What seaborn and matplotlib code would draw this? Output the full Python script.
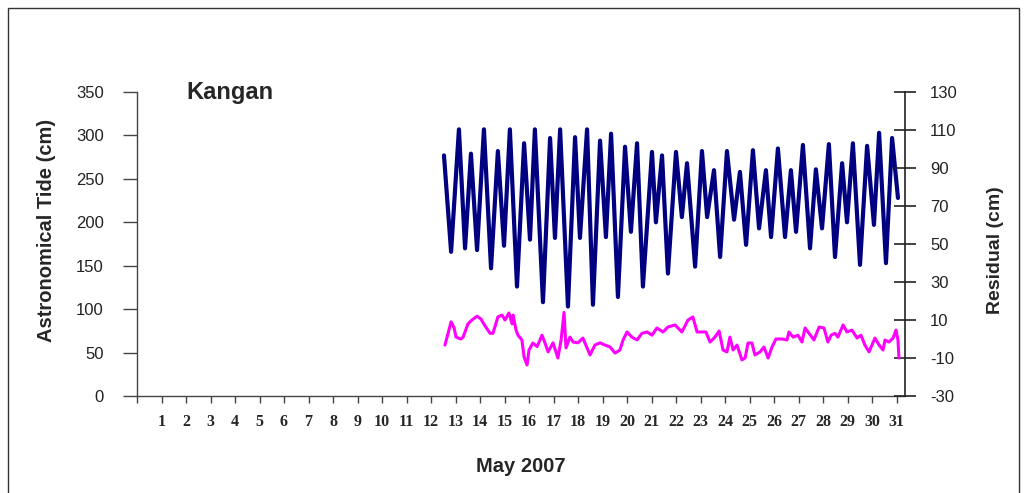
import matplotlib
matplotlib.use("Agg")
import matplotlib.pyplot as plt
import seaborn as sns
import pandas as pd
from matplotlib.patches import Rectangle

# ---- data (days of May 2007) ----
tide_day = [12.53, 12.82, 13.14, 13.39, 13.63, 13.88, 14.16, 14.45, 14.73, 14.98,
            15.22, 15.51, 15.80, 16.04, 16.24, 16.57, 16.86, 17.06, 17.27, 17.59,
            17.88, 18.08, 18.37, 18.61, 18.90, 19.14, 19.35, 19.63, 19.92, 20.16,
            20.41, 20.65, 21.02, 21.18, 21.43, 21.67, 22.00, 22.24, 22.45, 22.78,
            23.06, 23.27, 23.55, 23.80, 24.08, 24.37, 24.61, 24.86, 25.14, 25.39,
            25.67, 25.88, 26.16, 26.45, 26.69, 26.90, 27.18, 27.47, 27.71, 27.96,
            28.24, 28.49, 28.78, 28.98, 29.22, 29.51, 29.80, 30.08, 30.29, 30.57,
            30.82, 31.06]
tide_cm = [277, 166, 307, 170, 279, 168, 307, 147, 282, 173,
           307, 126, 291, 180, 307, 108, 297, 182, 307, 103,
           298, 182, 307, 105, 294, 183, 302, 114, 287, 189,
           291, 126, 281, 200, 277, 141, 281, 206, 268, 149,
           282, 206, 260, 160, 282, 203, 258, 174, 283, 193,
           260, 183, 285, 183, 260, 189, 289, 170, 261, 193,
           290, 160, 268, 200, 291, 151, 288, 197, 303, 153,
           297, 228]

resid_day = [12.57, 12.82, 12.94, 13.02, 13.22, 13.31, 13.51, 13.67, 13.88, 14.04,
             14.20, 14.41, 14.53, 14.73, 14.90, 15.02, 15.18, 15.31, 15.35, 15.47,
             15.55, 15.71, 15.80, 15.92, 16.00, 16.16, 16.33, 16.53, 16.65, 16.78,
             16.98, 17.18, 17.31, 17.43, 17.51, 17.67, 17.80, 18.00, 18.20, 18.37,
             18.49, 18.69, 18.90, 19.10, 19.31, 19.51, 19.71, 19.84, 20.00, 20.20,
             20.41, 20.61, 20.82, 21.02, 21.22, 21.47, 21.67, 21.96, 22.24, 22.49,
             22.69, 22.86, 23.06, 23.22, 23.39, 23.59, 23.76, 23.92, 24.08, 24.20,
             24.33, 24.49, 24.69, 24.82, 24.94, 25.10, 25.22, 25.43, 25.59, 25.76,
             25.92, 26.08, 26.33, 26.53, 26.61, 26.78, 26.98, 27.14, 27.27, 27.43,
             27.63, 27.84, 28.04, 28.20, 28.33, 28.49, 28.61, 28.82, 28.98, 29.18,
             29.39, 29.55, 29.71, 29.88, 30.12, 30.29, 30.45, 30.53, 30.69, 30.86,
             30.98, 31.06, 31.10]
resid_cm = [-3.2, 9.0, 6.0, 1.0, 0.0, 1.0, 8.0, 10.0, 12.0, 10.5,
            7.0, 3.0, 3.0, 11.6, 12.6, 10.0, 13.7, 8.0, 12.6, 4.7,
            2.0, -0.5, -9.5, -13.7, -5.8, -2.1, -4.0, 2.0, -2.0, -6.8,
            -2.0, -10.0, -0.5, 14.0, -4.7, 1.0, -1.6, -2.0, 0.5, -4.7,
            -8.4, -3.2, -2.0, -3.2, -4.2, -7.4, -5.8, -0.5, 3.7, 1.0,
            -0.5, 3.0, 3.7, 2.0, 5.8, 3.7, 6.3, 7.4, 3.7, 10.0,
            11.6, 3.7, 3.7, 3.7, -1.6, 1.0, 4.2, -5.8, -6.8, 1.0,
            -5.8, -3.2, -11.0, -10.0, -2.1, -2.1, -8.4, -6.8, -4.2, -10.0,
            -4.2, 0.0, 0.0, -0.5, 3.7, 1.0, 2.0, -1.6, 5.8, 3.0,
            -0.5, 6.3, 5.8, -1.6, 2.0, 3.0, 1.0, 7.4, 3.7, 4.7,
            0.5, 2.0, -3.2, -6.8, 0.5, -3.2, -5.8, -0.5, -1.6, 0.5,
            4.7, -0.5, -10.0]

day_ticks = list(range(1, 32))
left_ticks = [0, 50, 100, 150, 200, 250, 300, 350]
right_ticks = [-30, -10, 10, 30, 50, 70, 90, 110, 130]

tide_df = pd.DataFrame({"day": tide_day, "tide": tide_cm})
resid_df = pd.DataFrame({"day": resid_day, "resid": resid_cm})

sns.set_style("white")
plt.rcParams["font.family"] = ["Liberation Sans", "DejaVu Sans"]

W, H = 1025, 493
fig = plt.figure(figsize=(W / 100, H / 100), dpi=100)
fig.patch.set_facecolor("white")

# outer frame (bottom edge lies below the visible area)
fig.patches.append(Rectangle((8 / W, -5 / H), (1019 - 8) / W, (485 + 5) / H,
                             transform=fig.transFigure, fill=False,
                             edgecolor="#333333", linewidth=1.0))

ax = fig.add_axes([137 / W, 1 - 396 / H, (905 - 137) / W, (396 - 92) / H])
ax2 = ax.twinx()

sns.lineplot(data=tide_df, x="day", y="tide", ax=ax, color="#000080",
             linewidth=3.0, sort=False, estimator=None)
sns.lineplot(data=resid_df, x="day", y="resid", ax=ax2, color="#FF00FF",
             linewidth=2.2, sort=False, estimator=None)

xmax = (905 - 137) / 24.5
ax.set_xlim(0, xmax)
ax.set_ylim(0, 350)
ax2.set_ylim(-30, 130)

ax.set_yticks(left_ticks)
ax.set_yticklabels([str(v) for v in left_ticks], fontsize=12, color="#222222")
ax2.set_yticks(right_ticks)
ax2.set_yticklabels([str(v) for v in right_ticks], fontsize=12, color="#222222")

ax.set_xticks([0] + day_ticks)
ax.set_xticklabels([""] + [str(d) for d in day_ticks], fontsize=11.5,
                   fontweight="bold", family="Liberation Serif")

for a in (ax, ax2):
    a.spines["top"].set_visible(False)
    a.set_facecolor("none")
    a.grid(False)
ax.spines["right"].set_visible(False)
ax2.spines["left"].set_visible(False)
ax2.spines["bottom"].set_visible(False)
ax.spines["left"].set_color("#444444")
ax.spines["bottom"].set_color("#444444")
ax2.spines["right"].set_color("#222222")
ax.spines["left"].set_linewidth(1.0)
ax.spines["bottom"].set_linewidth(1.0)
ax2.spines["right"].set_linewidth(1.2)

ax.tick_params(axis="y", direction="out", length=10, width=1, color="#444444", pad=14, left=True)
ax.tick_params(axis="x", direction="out", length=5, width=1, color="#444444", pad=8, bottom=True)
ax2.tick_params(axis="y", direction="inout", length=16, width=1.2, color="#222222", pad=10, right=True)

ax.set_xlabel("")
ax.set_ylabel("")
ax2.set_ylabel("")

fig.text(47 / W, 1 - 230 / H, "Astronomical Tide (cm)", rotation=90,
         ha="center", va="center", fontsize=14.5, fontweight="bold")
fig.text(995 / W, 1 - 250 / H, "Residual (cm)", rotation=90,
         ha="center", va="center", fontsize=14, fontweight="bold")
fig.text(521 / W, 1 - 466 / H, "May 2007", ha="center", va="center",
         fontsize=14.5, fontweight="bold")
fig.text(186 / W, 1 - 93 / H, "Kangan", ha="left", va="center",
         fontsize=17, fontweight="bold")

fig.savefig("out.png", dpi=100, facecolor="white")
